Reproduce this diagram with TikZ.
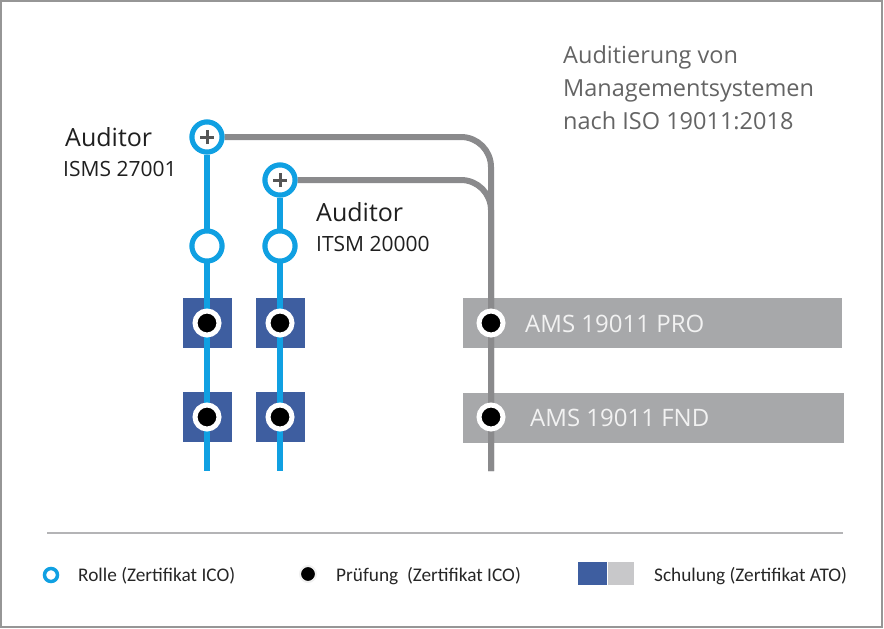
\documentclass[tikz,border=0pt]{standalone}
\usepackage{fontspec}
\setmainfont{Open Sans}
\newfontfamily\legendfont{Carlito}
\usetikzlibrary{positioning}

\definecolor{roleblue}{RGB}{16,160,226}
\definecolor{courseblue}{RGB}{62,94,160}
\definecolor{trackgray}{RGB}{138,138,140}
\definecolor{bargray}{RGB}{167,168,170}
\definecolor{lightbar}{RGB}{200,200,202}
\definecolor{titlegray}{RGB}{100,100,100}
\definecolor{plusgray}{RGB}{85,85,85}
\definecolor{framegray}{RGB}{150,150,150}
\definecolor{rulegray}{RGB}{180,180,182}

\tikzset{
  role/.style={circle, draw=roleblue, line width=5pt, fill=white, minimum size=30pt, inner sep=0pt},
  exam/.style={circle, fill=black, draw=white, line width=5pt, minimum size=24pt, inner sep=0pt},
  course/.style={fill=courseblue, minimum width=49pt, minimum height=50pt, inner sep=0pt},
  bar/.style={fill=bargray, minimum width=379pt, minimum height=50pt, inner sep=0pt, anchor=west},
  roletrack/.style={roleblue, line width=6.5pt},
  mgmttrack/.style={trackgray, line width=6pt},
  plussign/.style={plusgray, line width=3pt},
  label/.style={inner sep=0pt, anchor=base west, text=black!88},
  legend/.style={inner sep=0pt, anchor=base west, text=black!85, font=\legendfont\fontsize{19.3}{22}\selectfont}
}

\begin{document}
\begin{tikzpicture}[x=1pt, y=-1pt]
    \useasboundingbox (0,0) rectangle (884,629);
    % Frame
    \draw[framegray, line width=2pt] (1,1) rectangle (882,627);

    % Training blocks and certificate bars
    \node[course] (crsA1) at (207,323) {};
    \node[course] (crsA2) at (207,417) {};
    \node[course] (crsB1) at (280,323) {};
    \node[course] (crsB2) at (280,417) {};
    \node[bar] (barPro) at (463,323) {};
    \node[bar, minimum width=381pt] (barFnd) at (463,418) {};

    % Track ends
    \coordinate (endA) at (207,471);
    \coordinate (endB) at (280,471);
    \coordinate (endT) at (491,471);

    % Role circles
    \node[role] (plusA) at (207,137) {};
    \node[role] (plusB) at (280,180) {};
    \node[role] (roleA) at (207,246) {};
    \node[role] (roleB) at (280,246) {};

    % Tracks
    \draw[mgmttrack, rounded corners=30pt] (plusA.east) -- (plusA.east -| endT) -- (endT);
    \draw[mgmttrack, rounded corners=30pt] (plusB.east) -- (plusB.east -| endT) -- (endT);
    \draw[roletrack] (plusA) -- (endA);
    \draw[roletrack] (plusB) -- (endB);

    % Circles on top
    \foreach \n in {plusA, plusB, roleA, roleB} {
        \node[role] at (\n) {};
    }
    \foreach \n in {plusA, plusB} {
        \draw[plussign] ([xshift=-7pt]\n.center) -- ([xshift=7pt]\n.center);
        \draw[plussign] ([yshift=-7pt]\n.center) -- ([yshift=7pt]\n.center);
    }

    % Exams
    \node[exam] (exA1) at (crsA1) {};
    \node[exam] (exA2) at (crsA2) {};
    \node[exam] (exB1) at (crsB1) {};
    \node[exam] (exB2) at (crsB2) {};
    \node[exam] (exPro) at (491,323) {};
    \node[exam] (exFnd) at (491,417) {};

    % Labels
    \node[label, font=\fontsize{25}{28}\selectfont] (audA) at (65,146) {Auditor};
    \node[label, font=\fontsize{21}{24}\selectfont] (isms) at (63,176) {ISMS 27001};
    \node[label, font=\fontsize{25}{28}\selectfont] (audB) at (316,221) {Auditor};
    \node[label, font=\fontsize{21}{24}\selectfont] (itsm) at (316,251) {ITSM 20000};
    \node[label, text=white!95!black, font=\fontsize{24}{27}\selectfont] (proTxt) at (525,332) {AMS 19011 PRO};
    \node[label, text=white!95!black, font=\fontsize{24}{27}\selectfont] (fndTxt) at (530,426) {AMS 19011 FND};

    % Title
    \node[label, text=titlegray, font=\fontsize{23.5}{28}\selectfont] (ttl1) at (563,63) {Auditierung von};
    \node[label, text=titlegray, font=\fontsize{23.5}{28}\selectfont] (ttl2) at (563,96) {Managementsystemen};
    \node[label, text=titlegray, font=\fontsize{23.5}{28}\selectfont] (ttl3) at (563,129) {nach ISO 19011:2018};

    % Legend
    \draw[rulegray, line width=2pt] (47,533) -- (843,533);
    \node[circle, draw=roleblue, line width=3.5pt, minimum size=13pt, inner sep=0pt] (lgRole) at (51,575) {};
    \node[legend] (lgRoleTxt) at (78,581) {Rolle (Zertifikat ICO)};
    \node[circle, fill=black, draw=black!6, line width=2pt, minimum size=16pt, inner sep=0pt] (lgExam) at (308,574) {};
    \node[legend] (lgExamTxt) at (336,581) {Prüfung\ \ (Zertifikat ICO)};
    \node[fill=courseblue, minimum width=29pt, minimum height=23pt, inner sep=0pt, anchor=west] (lgCrs) at (578,573) {};
    \node[fill=lightbar, minimum width=26pt, minimum height=23pt, inner sep=0pt, anchor=west] (lgBar) at (lgCrs.east) {};
    \node[legend] (lgCrsTxt) at (654,581) {Schulung (Zertifikat ATO)};
\end{tikzpicture}
\end{document}
